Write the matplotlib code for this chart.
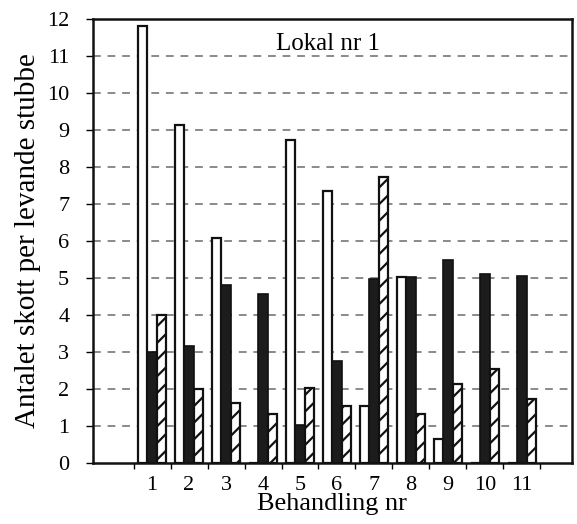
import numpy as np
import matplotlib
matplotlib.use("Agg")
import matplotlib.pyplot as plt

plt.rcParams['font.family'] = ['Liberation Serif', 'DejaVu Serif']
plt.rcParams['hatch.linewidth'] = 1.6

# -------------------------------
# Data
# -------------------------------
behandling = [1, 2, 3, 4, 5, 6, 7, 8, 9, 10, 11]
vita = [11.8, 9.13, 6.08, 0.0, 8.73, 7.34, 1.55, 5.02, 0.64, 0.0, 0.0]
svarta = [3.0, 3.15, 4.82, 4.58, 1.03, 2.77, 4.96, 5.02, 5.5, 5.11, 5.05]
randiga = [4.0, 2.0, 1.62, 1.32, 2.04, 1.53, 7.72, 1.33, 2.13, 2.54, 1.73]

x = np.array(behandling)
w = 0.25

fig = plt.figure(figsize=(5.77, 5.24), dpi=100)
ax = fig.add_axes([0.161, 0.1164, 0.830, 0.8473])

# streckade stödlinjer bakom staplarna
for y in range(1, 12):
    ax.axhline(y, color='#8a8a8a', lw=1.4, ls=(0, (4, 3.5)), zorder=0)

ax.bar(x - w, vita, w, color='white', edgecolor='#111111', lw=1.6, zorder=2)
ax.bar(x, svarta, w, color='#1c1c1c', edgecolor='#111111', lw=1.2, zorder=2)
ax.bar(x + w, randiga, w, color='white', edgecolor='#111111', lw=1.6,
       hatch='//', zorder=2)

ax.set_xlim(-0.6, 12.35)
ax.set_ylim(0, 12)
ax.set_yticks(range(0, 13))
ax.set_xticks(x)
ax.set_xticks(np.arange(0.5, 12, 1), minor=True)
ax.tick_params(axis='x', which='major', length=0, pad=9, labelsize=16)
ax.tick_params(axis='x', which='minor', length=4, width=1, direction='out')
ax.tick_params(axis='y', length=5, width=1, direction='out', pad=12, labelsize=16)

for s in ax.spines.values():
    s.set_linewidth(1.8)
    s.set_color('#111111')

ax.text(5.75, 11.33, 'Lokal nr 1', ha='center', va='center', fontsize=18)
ax.set_xlabel('Behandling nr', fontsize=19, labelpad=-1)
ax.set_ylabel('Antalet skott per levande stubbe', fontsize=21, labelpad=4)

fig.savefig('out.png', dpi=100)
